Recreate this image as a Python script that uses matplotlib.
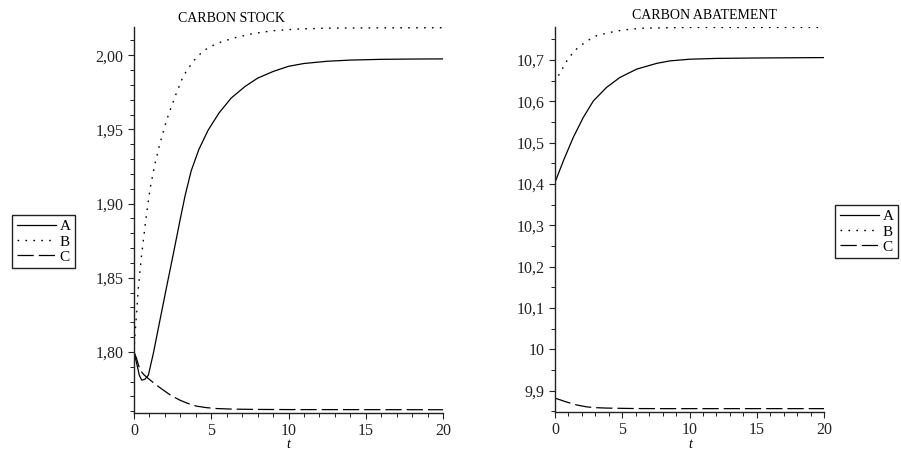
"""Carbon stock and carbon abatement paths for scenarios A, B, C."""
import matplotlib

matplotlib.use("Agg")
import matplotlib.pyplot as plt
from matplotlib.ticker import FixedLocator, FuncFormatter, MultipleLocator

plt.rcParams["font.family"] = ["Liberation Serif", "DejaVu Serif"]

# --- carbon stock (left panel) ---
stock_t_a = [0, 0.2, 0.35, 0.5, 0.7, 0.93, 1.25, 1.68, 2.11, 2.55, 2.98, 3.3, 3.7, 4.2,
             4.8, 5.5, 6.3, 7.2, 8.0, 9.0, 10.0, 11.0, 12.5, 14.0, 16.0, 18.0, 20.0]
stock_a = [1.800, 1.791, 1.784, 1.781, 1.7815, 1.7843, 1.7989, 1.8214, 1.8438, 1.8663,
           1.8888, 1.9050, 1.9220, 1.9365, 1.9495, 1.9610, 1.9712, 1.9790, 1.9845,
           1.9890, 1.9925, 1.9944, 1.9959, 1.9967, 1.9972, 1.9974, 1.9975]

stock_t_b = [0, 0.05, 0.17, 0.28, 0.5, 0.75, 1.03, 1.36, 1.68, 2.11, 2.65, 3.19, 3.84,
             4.49, 5.35, 6.43, 7.72, 9.0, 10.5, 12.5, 15.0, 20.0]
stock_b = [1.800, 1.810, 1.826, 1.843, 1.866, 1.888, 1.9095, 1.927, 1.9405, 1.9562,
           1.9719, 1.9860, 1.9960, 2.0030, 2.0079, 2.0115, 2.0146, 2.0165, 2.0176,
           2.0182, 2.0184, 2.0185]

stock_t_c = [0, 0.15, 0.39, 0.65, 0.93, 1.4, 1.9, 2.4, 2.98, 3.5, 4.05, 4.7, 5.35,
             6.4, 8.0, 10.0, 20.0]
stock_c = [1.800, 1.796, 1.7877, 1.7845, 1.782, 1.778, 1.7742, 1.7706, 1.7674, 1.7652,
           1.7634, 1.7624, 1.7618, 1.7614, 1.7612, 1.7611, 1.7610]

# --- carbon abatement (right panel) ---
abate_t_a = [0, 0.62, 1.36, 2.1, 2.85, 3.84, 4.83, 6.07, 7.56, 8.55, 10.0, 12.0, 15.0, 20.0]
abate_a = [10.404, 10.456, 10.513, 10.561, 10.601, 10.634, 10.658, 10.678, 10.692,
           10.698, 10.702, 10.704, 10.705, 10.706]

abate_t_b = [0, 0.25, 0.5, 1.0, 1.61, 2.36, 3.1, 4.1, 5.1, 6.5, 8.0, 10.0, 20.0]
abate_b = [10.645, 10.662, 10.676, 10.705, 10.727, 10.746, 10.759, 10.767, 10.773,
           10.777, 10.778, 10.779, 10.779]

abate_t_c = [0, 0.8, 1.6, 2.3, 2.85, 3.8, 4.8, 6.0, 8.0, 20.0]
abate_c = [9.882, 9.873, 9.8654, 9.861, 9.859, 9.8578, 9.8572, 9.8566, 9.8564, 9.8564]

labels = ["A", "B", "C"]
stock_ticks = [1.80, 1.85, 1.90, 1.95, 2.00]
abate_ticks = [9.9, 10.0, 10.1, 10.2, 10.3, 10.4, 10.5, 10.6, 10.7]

STYLES = [
    dict(color="black", lw=0.9, linestyle="-"),
    dict(color="black", lw=1.0, linestyle=(0, (1.2, 4.5))),
    dict(color="black", lw=0.9, linestyle=(0, (13, 4))),
]


def comma(v, digits):
    if digits == 1 and abs(v - round(v)) < 1e-9:
        return f"{int(round(v))}"
    return f"{v:.{digits}f}".replace(".", ",")


def style_axes(ax):
    for side in ("top", "right"):
        ax.spines[side].set_visible(False)
    for side in ("left", "bottom"):
        ax.spines[side].set_linewidth(1.0)
        ax.spines[side].set_color("#222222")
    ax.tick_params(which="major", direction="out", length=4, width=0.8,
                   labelsize=11.5, pad=3.5, colors="#222222")
    ax.tick_params(which="minor", direction="out", length=3, width=0.7, colors="#222222")
    ax.set_xlim(0, 20)
    ax.xaxis.set_major_locator(MultipleLocator(5))
    ax.xaxis.set_minor_locator(MultipleLocator(1))


fig = plt.figure(figsize=(9.01, 4.5), dpi=100)
ax1 = fig.add_axes([134 / 901, 37.3 / 450, 309 / 901, 385.7 / 450])
ax2 = fig.add_axes([555 / 901, 38.3 / 450, 269 / 901, 384.7 / 450])

# left panel
lines = []
for (t, y), st, lab in zip([(stock_t_a, stock_a), (stock_t_b, stock_b), (stock_t_c, stock_c)],
                           STYLES, labels):
    (ln,) = ax1.plot(t, y, label=lab, **st)
    lines.append(ln)
style_axes(ax1)
ax1.set_ylim(1.759, 2.019)
ax1.yaxis.set_major_locator(FixedLocator(stock_ticks))
ax1.yaxis.set_minor_locator(MultipleLocator(0.01))
ax1.yaxis.set_major_formatter(FuncFormatter(lambda v, p: comma(v, 2)))

# right panel
for (t, y), st, lab in zip([(abate_t_a, abate_a), (abate_t_b, abate_b), (abate_t_c, abate_c)],
                           STYLES, labels):
    ax2.plot(t, y, label=lab, **st)
style_axes(ax2)
ax2.set_ylim(9.849, 10.780)
ax2.yaxis.set_major_locator(FixedLocator(abate_ticks))
ax2.yaxis.set_minor_locator(MultipleLocator(0.05))
ax2.yaxis.set_major_formatter(FuncFormatter(lambda v, p: comma(v, 1)))

# titles and axis labels
fig.text(231 / 901, 1 - 18.5 / 450, "CARBON STOCK", ha="center", va="center", fontsize=10)
fig.text(704 / 901, 1 - 15.5 / 450, "CARBON ABATEMENT", ha="center", va="center", fontsize=10)
fig.text(288 / 901, 1 - 444 / 450, "t", ha="center", va="center", fontsize=10, style="italic")
fig.text(690 / 901, 1 - 444 / 450, "t", ha="center", va="center", fontsize=10, style="italic")

# legends, one per panel, both placed outside the axes
for anchor in [(12 / 901, 1 - 215 / 450), (835 / 901, 1 - 205 / 450)]:
    leg = fig.legend(lines, labels, loc="upper left", bbox_to_anchor=anchor,
                     bbox_transform=fig.transFigure, borderaxespad=0, fancybox=False,
                     framealpha=1, edgecolor="#222222", fontsize=11, handlelength=2.6,
                     handletextpad=0.2, labelspacing=0.1, borderpad=0.3)
    leg.get_frame().set_linewidth(1.0)

fig.savefig("out.png", dpi=100)
